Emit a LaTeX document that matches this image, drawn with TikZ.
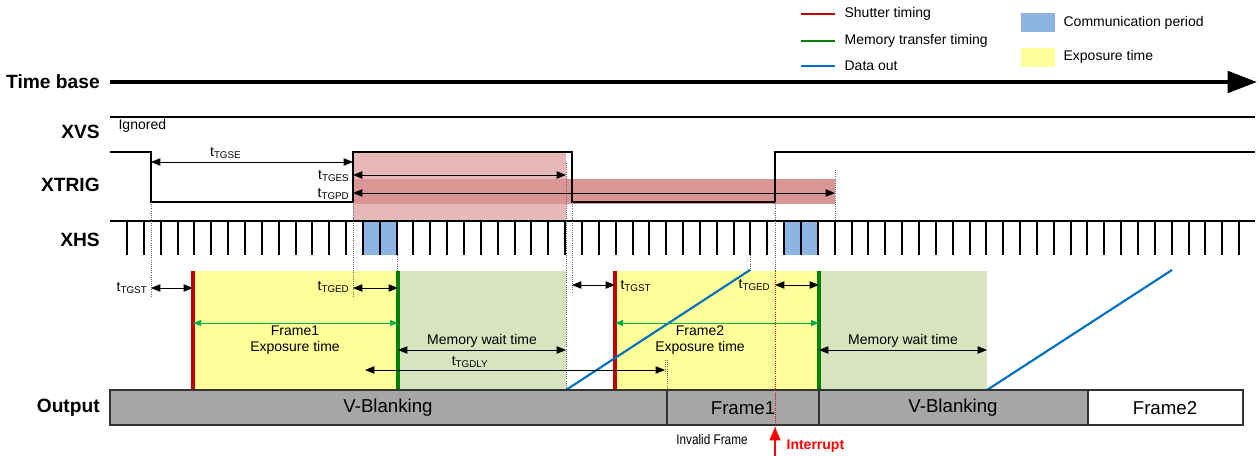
\documentclass[tikz,border=0pt]{standalone}
\usepackage{fontspec}
\setmainfont{Liberation Sans}
\usepackage{graphicx}
\usepackage{tikz}
\usetikzlibrary{arrows.meta}

\definecolor{shutred}{HTML}{C00000}
\definecolor{memgreen}{HTML}{008000}
\definecolor{dataout}{HTML}{0070C0}
\definecolor{commblue}{HTML}{8EB4E3}
\definecolor{expyellow}{HTML}{FFFF99}
\definecolor{waitgreen}{HTML}{D7E4BD}
\definecolor{lightpink}{HTML}{E6B9B8}
\definecolor{darkpink}{HTML}{D99694}
\definecolor{arrowgreen}{HTML}{00B050}
\definecolor{outgray}{HTML}{A6A6A6}
\definecolor{intred}{HTML}{FF0000}

\newcommand{\tsub}[1]{t\textsubscript{#1}}

\tikzset{
  signal/.style={line width=1.5pt},
  sig label/.style={anchor=east, inner sep=0pt, font=\fontsize{14.4}{16}\selectfont\bfseries},
  txt/.style={inner sep=1pt, font=\fontsize{10.5}{12}\selectfont},
  big/.style={font=\fontsize{14}{16}\selectfont},
  guide/.style={densely dotted, black!60, line width=0.6pt},
  dim/.style={{Triangle[length=7pt,width=5.5pt]}-{Triangle[length=7pt,width=5.5pt]}, line width=0.6pt},
  expo/.style={{Triangle[length=6pt,width=4.5pt]}-{Triangle[length=6pt,width=4.5pt]}, line width=0.7pt, arrowgreen},
  shutter/.style={line width=2.2pt, shutred},
  memtr/.style={line width=2.2pt, memgreen},
  dataline/.style={line width=1.6pt, dataout},
  outbox/.style={line width=0.8pt, draw=black!80}
}

\begin{document}
\begin{tikzpicture}[x=0.75pt, y=-0.75pt]
\useasboundingbox (0,0) rectangle (1259,456);

% Zonas sombreadas
\fill[lightpink] (353,152) rectangle (566,221);
\fill[darkpink] (353,179) rectangle (835,204);
\fill[expyellow] (193,271) rectangle (398,390);
\fill[waitgreen] (398,271) rectangle (566,390);
\fill[expyellow] (615,271) rectangle (819,390);
\fill[waitgreen] (819,271) rectangle (987,390);
\fill[commblue] (362.9,221) rectangle (396.6,255);
\fill[commblue] (784.2,221) rectangle (817.9,255);

% Leyenda
\draw[shutter] (801,14) -- (835,14);
\node[txt, anchor=west] (lgshut) at (843,14) {Shutter timing};
\draw[memtr] (801,41) -- (835,41);
\node[txt, anchor=west] (lgmem) at (843,41) {Memory transfer timing};
\draw[dataline] (801,66) -- (835,66);
\node[txt, anchor=west] (lgdata) at (843,66) {Data out};
\fill[commblue] (1021,13) rectangle (1055,32);
\node[txt, anchor=west] (lgcomm) at (1062,23) {Communication period};
\fill[expyellow] (1021,48) rectangle (1055,67);
\node[txt, anchor=west] (lgexp) at (1062,57) {Exposure time};

% Time base
\node[sig label] (tb) at (100,82) {Time base};
\draw[line width=3pt, -{Triangle[length=22pt,width=16pt]}] (110,82) -- (1257,82);

% XVS
\node[sig label] (xvs) at (100,132) {XVS};
\draw[signal] (110,117) -- (1255,117);
\node[txt, anchor=west] (ign) at (117,126) {Ignored};

% XTRIG
\node[sig label] (xtrig) at (100,185) {XTRIG};
\draw[signal] (110,152) -- (151,152) -- (151,202) -- (353,202) -- (353,152)
  -- (572,152) -- (572,202) -- (775,202) -- (775,152) -- (1255,152);

% XHS
\node[sig label] (xhs) at (100,240) {XHS};
\draw[signal] (110,221) -- (1255,221);
\foreach \i in {0,...,66}
  \draw[signal] ({127+16.85*\i},221) -- ({127+16.85*\i},255);

% Lineas guia
\draw[guide] (151,202) -- (151,298);
\draw[guide] (353,202) -- (353,298);
\draw[guide] (397,255) -- (397,271);
\draw[guide] (566,163) -- (566,390);
\draw[guide] (572,202) -- (572,293);
\draw[guide] (667,360) -- (667,390);
\draw[guide] (750,255) -- (750,270);
\draw[guide] (775,202) -- (775,271);
\draw[guide] (835,170) -- (835,221);

% Cotas superiores
\draw[dim] (151,162) -- (353,162) node[txt, pos=0.37, above=1pt] (tgse) {\tsub{TGSE}};
\draw[dim] (353,175) -- (566,175);
\node[txt, anchor=east] (tges) at (351,176) {\tsub{TGES}};
\draw[dim] (353,193) -- (835,193);
\node[txt, anchor=east] (tgpd) at (351,194) {\tsub{TGPD}};

% Tiempos de obturador y transferencia
\draw[shutter, line width=3pt] (193,271) -- (193,390);
\draw[memtr, line width=3pt] (398,271) -- (398,390);
\draw[shutter, line width=3pt] (615,271) -- (615,390);
\draw[memtr, line width=3pt] (819,271) -- (819,390);

% Salida de datos
\draw[dataline] (566,390) -- (750,270);
\draw[dataline] (987,390) -- (1172,270);

% Cotas Frame1
\draw[dim] (151,288) -- (193,288);
\node[txt, anchor=east] (tgst1) at (149,288) {\tsub{TGST}};
\draw[dim] (353,288) -- (398,288);
\node[txt, anchor=east] (tged1) at (351,287) {\tsub{TGED}};
\draw[expo] (193,323) -- (398,323);
\node[txt, align=center] (exp1) at (295,340) {Frame1\\Exposure time};
\draw[dim] (398,350) -- (566,350) node[txt, midway, above=1pt] (wait1) {Memory wait time};
\draw[dim] (365,370) -- (665,370) node[txt, pos=0.35, above=0.5pt] (tgdly) {\tsub{TGDLY}};
\draw[guide] (665,360) -- (665,372);

% Cotas Frame2
\draw[dim] (572,285) -- (615,285);
\node[txt, anchor=west] (tgst2) at (619,286) {\tsub{TGST}};
\draw[dim] (775,285) -- (819,285);
\node[txt, anchor=east] (tged2) at (772,285) {\tsub{TGED}};
\draw[expo] (615,323) -- (819,323);
\node[txt, align=center] (exp2) at (700,340) {Frame2\\Exposure time};
\draw[dim] (819,350) -- (987,350) node[txt, midway, above=1pt] (wait2) {Memory wait time};

% Output
\node[sig label] (outl) at (100,408) {Output};
\draw[outbox, fill=outgray] (110,390) rectangle (667,425);
\draw[outbox, fill=outgray] (667,390) rectangle (819,425);
\draw[outbox, fill=outgray] (819,390) rectangle (1088,425);
\draw[outbox, fill=white] (1088,390) rectangle (1243,425);
\node[big] (vb1) at (388,408) {V-Blanking};
\node[big] (fr1) at (743,408) {Frame1};
\node[big] (vb2) at (953,408) {V-Blanking};
\node[big] (fr2) at (1165,408) {Frame2};

% Interrupcion
\draw[densely dotted, intred, line width=0.6pt] (775,271) -- (775,432);
\draw[intred, line width=1.8pt, -{Triangle[length=10pt,width=8pt]}] (775,456) -- (775,427);
\node[txt] (inval) at (712,439) {\scalebox{0.84}[1]{Invalid Frame}};
\node[txt, anchor=west, intred, font=\fontsize{10.5}{12}\selectfont\bfseries] (intr) at (785,446) {Interrupt};
\end{tikzpicture}
\end{document}
